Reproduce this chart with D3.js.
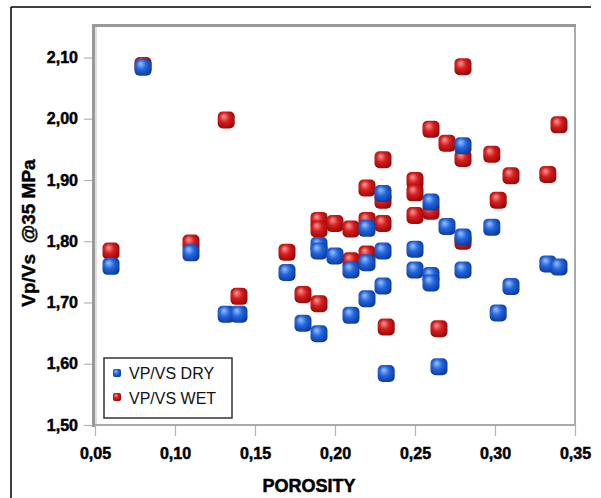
<!DOCTYPE html>
<html>
<head>
<meta charset="utf-8">
<script src="https://cdn.jsdelivr.net/npm/d3@7"></script>
<style>
    body { margin: 0; background: #fff; }
    text { font-family: "Liberation Sans", Arial, sans-serif; }
</style>
</head>
<body>
<script>
const w = 601;
const h = 498;

// porosity / vp-vs values
const dryPorosity = [0.08, 0.06, 0.11, 0.132, 0.14, 0.17, 0.18, 0.19, 0.19, 0.19, 0.20, 0.21, 0.21,
    0.22, 0.22, 0.22, 0.23, 0.23, 0.23, 0.232, 0.25, 0.25, 0.26, 0.26, 0.26, 0.265, 0.27,
    0.28, 0.28, 0.28, 0.298, 0.302, 0.31, 0.333, 0.34];
const dryVpVs = [2.084, 1.759, 1.781, 1.681, 1.681, 1.749, 1.666, 1.649, 1.793, 1.784, 1.776, 1.753, 1.679,
    1.821, 1.765, 1.706, 1.878, 1.784, 1.727, 1.584, 1.787, 1.753, 1.864, 1.744, 1.732, 1.595, 1.824,
    1.956, 1.807, 1.753, 1.823, 1.683, 1.726, 1.763, 1.758];

const wetPorosity = [0.08, 0.06, 0.11, 0.132, 0.14, 0.17, 0.18, 0.19, 0.19, 0.19, 0.20, 0.21, 0.21,
    0.22, 0.22, 0.22, 0.23, 0.23, 0.23, 0.232, 0.25, 0.25, 0.25, 0.26, 0.26, 0.265, 0.27,
    0.28, 0.28, 0.28, 0.298, 0.302, 0.31, 0.333, 0.34];
const wetVpVs = [2.087, 1.784, 1.797, 1.998, 1.710, 1.782, 1.713, 1.698, 1.834, 1.820, 1.829, 1.820, 1.768,
    1.887, 1.834, 1.779, 1.933, 1.867, 1.829, 1.660, 1.899, 1.879, 1.842, 1.983, 1.849, 1.657, 1.960,
    2.085, 1.935, 1.800, 1.942, 1.867, 1.907, 1.909, 1.990];

const xTicks = [0.05, 0.10, 0.15, 0.20, 0.25, 0.30, 0.35];
const yTicks = [1.50, 1.60, 1.70, 1.80, 1.90, 2.00, 2.10];

const series = [
    { name: "VP/VS WET", id: "wet", x: wetPorosity, y: wetVpVs, light: "#f49a9a", mid: "#d81c1c", dark: "#8a0606" },
    { name: "VP/VS DRY", id: "dry", x: dryPorosity, y: dryVpVs, light: "#9cc2ff", mid: "#2466dc", dark: "#0a3294" },
];

const fmt = (d) => d3.format(".2f")(d).replace(".", ",");

const svg = d3.select("body")
    .append("svg")
    .attr("width", w)
    .attr("height", h)
    ;

const defs = svg.append("defs");
series.forEach((s) => {
    const g = defs.append("radialGradient")
        .attr("id", "grad-" + s.id)
        .attr("cx", "45%").attr("cy", "45%").attr("r", "65%")
        .attr("fx", "35%").attr("fy", "28%")
        ;
    g.append("stop").attr("offset", "0%").attr("stop-color", s.light);
    g.append("stop").attr("offset", "45%").attr("stop-color", s.mid);
    g.append("stop").attr("offset", "100%").attr("stop-color", s.dark);
});

// outer border (only top and left are in view)
svg.append("line")
    .attr("x1", 11).attr("y1", 7).attr("x2", 591).attr("y2", 7)
    .attr("stroke", "#000").attr("stroke-width", 1.5)
    ;
svg.append("line")
    .attr("x1", 11).attr("y1", 7).attr("x2", 11).attr("y2", h)
    .attr("stroke", "#000").attr("stroke-width", 1.5)
    ;

const xScale = d3.scaleLinear()
    .domain([0.05, 0.35])
    .range([95, 575])
    ;

const yScale = d3.scaleLinear()
    .domain([1.5, 2.153])
    .range([425, 25])
    ;

const xAxis = d3.axisBottom(xScale)
    .tickValues(xTicks)
    .tickFormat(fmt)
    .tickSize(11)
    .tickPadding(12)
    ;

const yAxis = d3.axisLeft(yScale)
    .tickValues(yTicks)
    .tickFormat(fmt)
    .tickSize(11)
    .tickPadding(6)
    ;

const gx = svg.append("g")
    .attr("transform", "translate(0, 425)")
    .call(xAxis)
    ;
const gy = svg.append("g")
    .attr("transform", "translate(95, 0)")
    .call(yAxis)
    ;

[gx, gy].forEach((g) => {
    g.select(".domain").remove();
    g.selectAll(".tick line").attr("stroke", "#b4b4b4").attr("stroke-width", 1.2);
    g.selectAll(".tick text")
        .attr("fill", "#000")
        .attr("stroke", "#000")
        .attr("stroke-width", 0.5)
        .style("font-size", "16px")
        .style("font-weight", "bold")
        ;
});

// plot frame
svg.append("line")
    .attr("x1", 95).attr("y1", 425).attr("x2", 575).attr("y2", 425)
    .attr("stroke", "#aaaaaa").attr("stroke-width", 2)
    ;
svg.append("line")
    .attr("x1", 575).attr("y1", 25).attr("x2", 575).attr("y2", 425)
    .attr("stroke", "#aaaaaa").attr("stroke-width", 2)
    ;
svg.append("line")
    .attr("x1", 93).attr("y1", 25.5).attr("x2", 576).attr("y2", 25.5)
    .attr("stroke", "#999999").attr("stroke-width", 3)
    ;
svg.append("line")
    .attr("x1", 93.5).attr("y1", 24).attr("x2", 93.5).attr("y2", 427)
    .attr("stroke", "#999999").attr("stroke-width", 3)
    ;
svg.append("line")
    .attr("x1", 96).attr("y1", 27).attr("x2", 96).attr("y2", 424)
    .attr("stroke", "#d6d6d6").attr("stroke-width", 1.5)
    ;

// points, wet first so dry sits on top
const size = 17;
series.forEach((s) => {
    svg.append("g")
        .selectAll("rect")
        .data(s.x.map((d, i) => [d, s.y[i]]))
        .enter()
        .append("rect")
        .attr("x", (d) => xScale(d[0]) - size / 2)
        .attr("y", (d) => yScale(d[1]) - size / 2)
        .attr("width", size)
        .attr("height", size)
        .attr("rx", 5)
        .attr("fill", "url(#grad-" + s.id + ")")
        ;
});

// legend
const legend = svg.append("g")
    .attr("transform", "translate(104, 358)")
    ;
legend.append("rect")
    .attr("x", 0).attr("y", 0)
    .attr("width", 128).attr("height", 60)
    .attr("fill", "#fff")
    .attr("stroke", "#333").attr("stroke-width", 1.5)
    ;
const legendItems = [series[1], series[0]];
legendItems.forEach((s, i) => {
    legend.append("rect")
        .attr("x", 9).attr("y", 11 + i * 24)
        .attr("width", 8).attr("height", 8)
        .attr("rx", 2)
        .attr("fill", "url(#grad-" + s.id + ")")
        ;
    legend.append("text")
        .attr("x", 25).attr("y", 21 + i * 25)
        .style("font-size", "16px")
        .attr("fill", "#111")
        .text(s.name)
        ;
});

// axis titles
svg.append("text")
    .attr("x", 309).attr("y", 492)
    .attr("text-anchor", "middle")
    .attr("stroke", "#000")
    .attr("stroke-width", 0.5)
    .style("font-size", "18px")
    .style("font-weight", "bold")
    .text("POROSITY")
    ;

svg.append("text")
    .attr("transform", "translate(35, 233) rotate(-90)")
    .attr("text-anchor", "middle")
    .attr("stroke", "#000")
    .attr("stroke-width", 0.4)
    .style("font-size", "19px")
    .style("font-weight", "bold")
    .style("white-space", "pre")
    .text("Vp/Vs  @35 MPa")
    ;
</script>
</body>
</html>
